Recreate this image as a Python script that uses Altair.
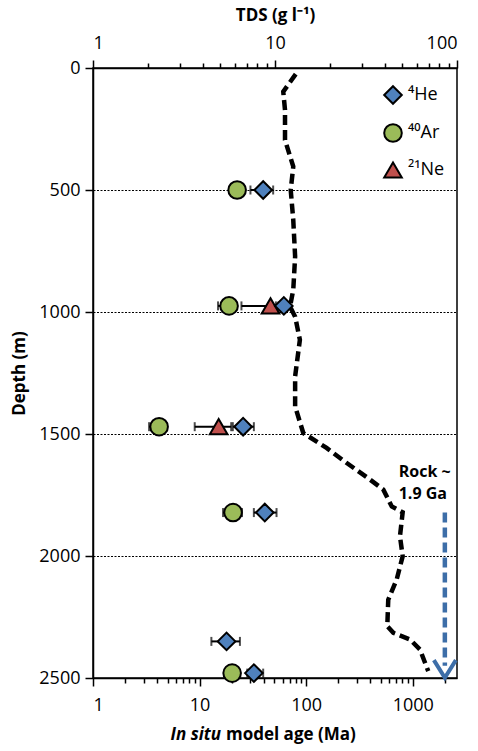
import altair as alt
import pandas as pd

# ---------------- data ----------------
iso_labels = ["\u2074He", "\u2074\u2070Ar", "\u00b2\u00b9Ne"]
iso_colors = ["#4f81bd", "#9bbb59", "#c0504d"]
iso_shapes = ["diamond", "circle", "triangle-up"]
iso_outline = ["black", "black", "black"]

he_depth = [500, 975, 1470, 1822, 2350, 2480]
he_age = [39.5, 61.7, 25.6, 40.9, 17.9, 32.3]
he_lo = [30.0, 55.0, 20.5, 32.3, 12.9, 28.0]
he_hi = [49.0, 68.0, 32.3, 52.7, 23.9, 39.5]

ar_depth = [500, 975, 1470, 1822, 2480]
ar_age = [22.5, 18.9, 4.17, 20.6, 20.2]
ar_lo = [20.0, 14.9, 3.36, 16.6, 18.0]
ar_hi = [25.0, 22.0, 4.9, 25.0, 22.5]

ne_depth = [975, 1470]
ne_age = [46.3, 15.1]
ne_lo = [24.7, 9.0]
ne_hi = [52.0, 19.8]

tds_depth = [25, 97, 172, 295, 404, 500, 623, 773, 909, 978, 1019, 1114, 1264,
             1387, 1496, 1557, 1619, 1687, 1728, 1797, 1821, 1919, 2001, 2097,
             2179, 2288, 2315, 2342, 2383, 2472]
tds_value = [13.0, 11.1, 11.35, 11.35, 12.6, 12.2, 12.6, 12.9, 12.6, 12.1, 12.9,
             13.7, 12.9, 12.9, 14.3, 19.2, 24.8, 33.3, 39.4, 43.8, 50.3, 48.6,
             50.3, 46.6, 41.9, 41.4, 44.7, 55.2, 62.6, 69.5]

rock_age = 2000
rock_top = 1822
rock_bottom = 2450
rock_head = 2472
rock_text = ["Rock ~", "1.9 Ga"]
rock_text_depth = [1656, 1746]
rock_text_age = [738, 738]

age_ticks = [1, 2, 3, 4, 5, 6, 7, 8, 9, 10, 20, 30, 40, 50, 60, 70, 80, 90,
             100, 200, 300, 400, 500, 600, 700, 800, 900, 1000, 2000]
tds_ticks = [1, 2, 3, 4, 5, 6, 7, 8, 9, 10, 20, 30, 40, 50, 60, 70, 80, 90, 100]
depth_ticks = [0, 500, 1000, 1500, 2000, 2500]

x_title_italic = "In situ"
x_title_rest = "model age (Ma)"
top_title = "TDS (g l\u207b\u00b9)"
y_title = "Depth (m)"

# ---------------- tables ----------------
rows = []
for lab, d, a, lo, hi in [(iso_labels[1], ar_depth, ar_age, ar_lo, ar_hi),
                          (iso_labels[2], ne_depth, ne_age, ne_lo, ne_hi),
                          (iso_labels[0], he_depth, he_age, he_lo, he_hi)]:
    for i in range(len(d)):
        rows.append({"iso": lab, "depth": d[i], "age": a[i], "lo": lo[i], "hi": hi[i]})
pts = pd.DataFrame(rows)
pts["ord"] = range(len(pts))
caps = pd.concat([
    pts[["depth", "lo"]].rename(columns={"lo": "cap"}),
    pts[["depth", "hi"]].rename(columns={"hi": "cap"}),
])
tds = pd.DataFrame({"depth": tds_depth, "tds": tds_value})
rock = pd.DataFrame({"age": [rock_age], "d1": [rock_top], "d2": [rock_bottom], "dh": [rock_head]})
rock_lab = pd.DataFrame({"t": rock_text, "depth": rock_text_depth, "age": rock_text_age})
one = pd.DataFrame({"a": [x_title_italic], "b": [x_title_rest]})

FONT = "Open Sans"
W, H = 364, 610

age_scale = alt.Scale(type="log", domain=[1, 2600], nice=False)
tds_scale = alt.Scale(type="log", domain=[1, 100], nice=False)
depth_scale = alt.Scale(domain=[0, 2500], reverse=True, nice=False)

major_test = "datum.value == 1 || datum.value == 10 || datum.value == 100 || datum.value == 1000"

x_axis = alt.Axis(values=age_ticks, title=None, orient="bottom",
                  labelExpr=f"({major_test}) ? datum.label : ''", format="d",
                  labelOverlap=False, labelPadding=10, grid=False,
                  tickSize={"condition": {"test": major_test, "value": 8}, "value": 5})
top_axis = alt.Axis(values=tds_ticks, title=top_title, orient="top",
                    labelExpr=f"({major_test}) ? datum.label : ''", format="d",
                    labelOverlap=False, labelPadding=8, grid=False,
                    titleFontWeight="bold", titlePadding=10,
                    tickSize={"condition": {"test": major_test, "value": 8}, "value": 5})
y_axis = alt.Axis(values=depth_ticks, title=y_title, titleFontWeight="bold", format="d",
                  tickSize=8, labelPadding=5, titlePadding=10,
                  grid=True, gridDash=[2, 1.5], gridColor="black", gridWidth=1)

X = lambda f: alt.X(f, scale=age_scale, axis=x_axis)
Y = lambda f: alt.Y(f, scale=depth_scale, axis=y_axis)

err = alt.Chart(pts).mark_rule(color="black", strokeWidth=2).encode(
    x=X("lo:Q"), x2="hi:Q", y=Y("depth:Q"))
capm = alt.Chart(caps).mark_tick(orient="vertical", color="black", thickness=2, size=9).encode(
    x=X("cap:Q"), y=Y("depth:Q"))

legend = alt.Legend(orient="none", legendX=290, legendY=17, title=None,
                    labelFontSize=18, labelFont=FONT, labelColor="black",
                    symbolSize=310, symbolStrokeWidth=2,
                    rowPadding=12, labelOffset=5, padding=0)

points = alt.Chart(pts).mark_point(filled=True, opacity=1, size=310, strokeWidth=2).encode(
    x=X("age:Q"), y=Y("depth:Q"),
    fill=alt.Fill("iso:N", scale=alt.Scale(domain=iso_labels, range=iso_colors), legend=legend),
    shape=alt.Shape("iso:N", scale=alt.Scale(domain=iso_labels, range=iso_shapes), legend=legend),
    stroke=alt.Stroke("iso:N", scale=alt.Scale(domain=iso_labels, range=iso_outline), legend=legend),
    order="ord:Q")

BLUE = "#3d6ea8"
rock_line = alt.Chart(rock).mark_rule(color=BLUE, strokeWidth=4.5, strokeDash=[10, 5]).encode(
    x=X("age:Q"), y=Y("d1:Q"), y2="d2:Q")
rock_head_m = alt.Chart(rock).mark_point(shape="M-1,-1L0,0.6L1,-1", filled=False, stroke=BLUE,
                                         strokeWidth=4, size=484, opacity=1).encode(
    x=X("age:Q"), y=Y("dh:Q"))
rock_txt = alt.Chart(rock_lab).mark_text(align="left", baseline="middle", font=FONT,
                                         fontSize=16, fontWeight="bold", color="black").encode(
    x=X("age:Q"), y=Y("depth:Q"), text="t:N")

t1 = alt.Chart(one).mark_text(align="right", baseline="middle", font=FONT, fontSize=17,
                              fontWeight="bold", fontStyle="italic", color="black").encode(
    x=alt.value(128), y=alt.value(667), text="a:N")
t2 = alt.Chart(one).mark_text(align="left", baseline="middle", font=FONT, fontSize=17,
                              fontWeight="bold", color="black").encode(
    x=alt.value(133), y=alt.value(667), text="b:N")

age_layers = alt.layer(err, capm, points, rock_line, rock_head_m, rock_txt, t1, t2)

tds_line = alt.Chart(tds).mark_line(color="black", strokeWidth=4.5, strokeDash=[10, 5]).encode(
    x=alt.X("tds:Q", scale=tds_scale, axis=top_axis), y=Y("depth:Q"), order="depth:Q")

chart = alt.layer(age_layers, tds_line).resolve_scale(x="independent").properties(
    width=W, height=H,
    background="white",
    autosize=alt.AutoSizeParams(type="none"),
    padding={"left": 93, "top": 68, "right": 21, "bottom": 73},
).configure_view(stroke="black", strokeWidth=1.5).configure_axis(
    domainColor="black", domainWidth=1.5, tickColor="black", tickWidth=1.5,
    labelFont=FONT, labelFontSize=18, labelColor="black",
    titleFont=FONT, titleFontSize=17, titleColor="black",
)

chart.save("out.html", embed_options={"renderer": "svg", "actions": False})
